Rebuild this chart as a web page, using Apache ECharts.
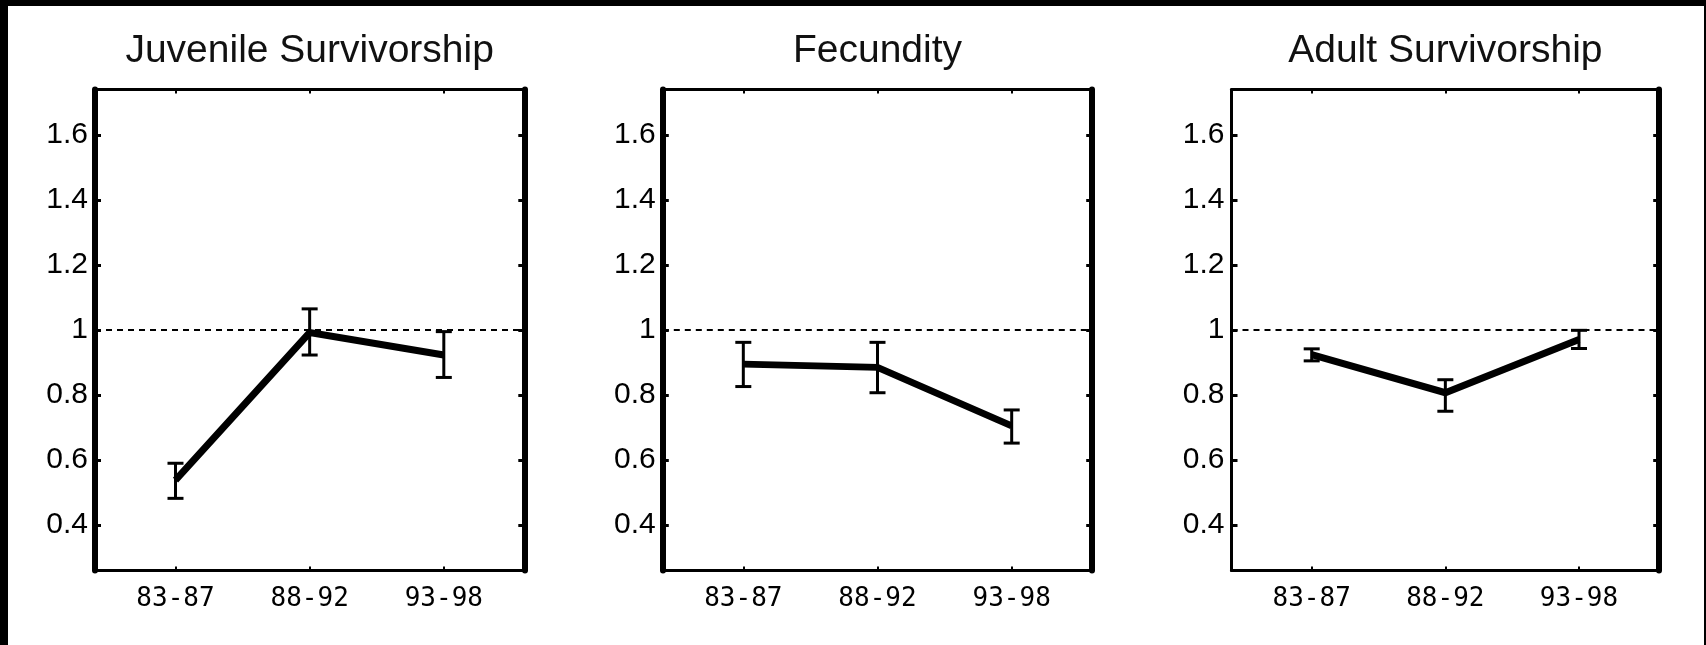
<!DOCTYPE html>
<html><head><meta charset="utf-8">
<script src="https://cdn.jsdelivr.net/npm/echarts@6/dist/echarts.min.js"></script>
<style>html,body{margin:0;padding:0;background:#fff}#c{width:1706px;height:645px}</style>
</head><body><div id="c"></div>
<script>
const periods = ['83-87', '88-92', '93-98'];
const panelTitles = ['Juvenile Survivorship', 'Fecundity', 'Adult Survivorship'];
const juvenileMean = [0.538, 0.992, 0.923];
const juvenileLow = [0.482, 0.923, 0.854];
const juvenileHigh = [0.590, 1.065, 0.995];
const fecundityMean = [0.895, 0.885, 0.705];
const fecundityLow = [0.826, 0.807, 0.652];
const fecundityHigh = [0.962, 0.962, 0.754];
const adultMean = [0.924, 0.807, 0.971];
const adultLow = [0.905, 0.750, 0.943];
const adultHigh = [0.942, 0.847, 0.999];
const yTicks = [0.4, 0.6, 0.8, 1, 1.2, 1.4, 1.6];
const xTicks = [1, 2, 3];
const referenceLevel = 1;

const panels = [
  { mean: juvenileMean, low: juvenileLow, high: juvenileHigh },
  { mean: fecundityMean, low: fecundityLow, high: fecundityHigh },
  { mean: adultMean, low: adultLow, high: adultHigh }
];
const layout = [
  { left: 95, width: 429.3, lw: 6 },
  { left: 662.8, width: 429.4, lw: 6 },
  { left: 1231.5, width: 427.7, lw: 3 }
];
const gridTop = 89.5, gridHeight = 481;
const black = '#000';

const grid = [], xAxis = [], yAxis = [], series = [], graphic = [];
layout.forEach((L, i) => {
  grid.push({ left: L.left, top: gridTop, width: L.width, height: gridHeight, show: false });
  const xBase = {
    gridIndex: i, type: 'value', min: 0.4, max: 3.6, splitLine: { show: false },
    axisLine: { show: true, onZero: false, lineStyle: { color: black, width: 3 } },
    axisTick: { show: true, inside: true, length: 4, customValues: xTicks, lineStyle: { color: black, width: 2 } }
  };
  xAxis.push(Object.assign({}, xBase, {
    position: 'bottom',
    axisLabel: {
      show: true, customValues: xTicks, margin: 16,
      formatter: v => periods[Math.round(v) - 1],
      fontFamily: 'DejaVu Sans Mono', fontSize: 26, color: black
    }
  }));
  xAxis.push(Object.assign({}, xBase, { position: 'top', axisLabel: { show: false } }));
  const yBase = {
    gridIndex: i, type: 'value', min: 0.26, max: 1.74, splitLine: { show: false },
    axisTick: { show: true, inside: true, length: 6, customValues: yTicks, lineStyle: { color: black, width: 3 } }
  };
  yAxis.push(Object.assign({}, yBase, {
    position: 'left',
    axisLine: { show: true, onZero: false, lineStyle: { color: black, width: L.lw } },
    axisLabel: {
      show: true, customValues: yTicks, margin: 7,
      formatter: v => String(v),
      fontFamily: 'Liberation Sans', fontSize: 30, color: black
    }
  }));
  yAxis.push(Object.assign({}, yBase, {
    position: 'right',
    axisLine: { show: true, onZero: false, lineStyle: { color: black, width: 6 } },
    axisLabel: { show: false }
  }));

  const P = panels[i];
  series.push({
    type: 'line', xAxisIndex: 2 * i, yAxisIndex: 2 * i,
    data: P.mean.map((v, k) => [xTicks[k], v]),
    symbol: 'none', animation: false, z: 4,
    lineStyle: { color: black, width: 7, cap: 'butt', join: 'miter' },
    markLine: {
      silent: true, symbol: 'none', animation: false,
      label: { show: false },
      lineStyle: { color: black, width: 2, type: [6, 5] },
      data: [{ yAxis: referenceLevel }]
    }
  });
  series.push({
    type: 'custom', xAxisIndex: 2 * i, yAxisIndex: 2 * i, animation: false, z: 5,
    data: P.mean.map((v, k) => [xTicks[k], P.low[k], P.high[k]]),
    renderItem: (params, api) => {
      const x = api.value(0);
      const lo = api.coord([x, api.value(1)]);
      const hi = api.coord([x, api.value(2)]);
      const hw = 8;
      const st = { stroke: black, lineWidth: 3 };
      return {
        type: 'group', children: [
          { type: 'line', shape: { x1: lo[0], y1: lo[1], x2: hi[0], y2: hi[1] }, style: st },
          { type: 'line', shape: { x1: lo[0] - hw, y1: lo[1], x2: lo[0] + hw, y2: lo[1] }, style: st },
          { type: 'line', shape: { x1: hi[0] - hw, y1: hi[1], x2: hi[0] + hw, y2: hi[1] }, style: st }
        ]
      };
    }
  });
  graphic.push({
    type: 'text', x: L.left + L.width / 2, y: 51,
    style: { text: panelTitles[i], fill: '#111', font: '39px "Liberation Sans"', align: 'center', verticalAlign: 'middle' }
  });
});
graphic.push({ type: 'rect', shape: { x: 0, y: 0, width: 1706, height: 6 }, style: { fill: black } });
graphic.push({ type: 'rect', shape: { x: 0, y: 0, width: 8, height: 645 }, style: { fill: black } });
graphic.push({ type: 'rect', shape: { x: 1704, y: 0, width: 2, height: 645 }, style: { fill: black } });

const chart = echarts.init(document.getElementById('c'), null, { renderer: 'canvas' });
chart.setOption({
  animation: false, backgroundColor: '#fff',
  grid, xAxis, yAxis, series, graphic
});
</script></body></html>
